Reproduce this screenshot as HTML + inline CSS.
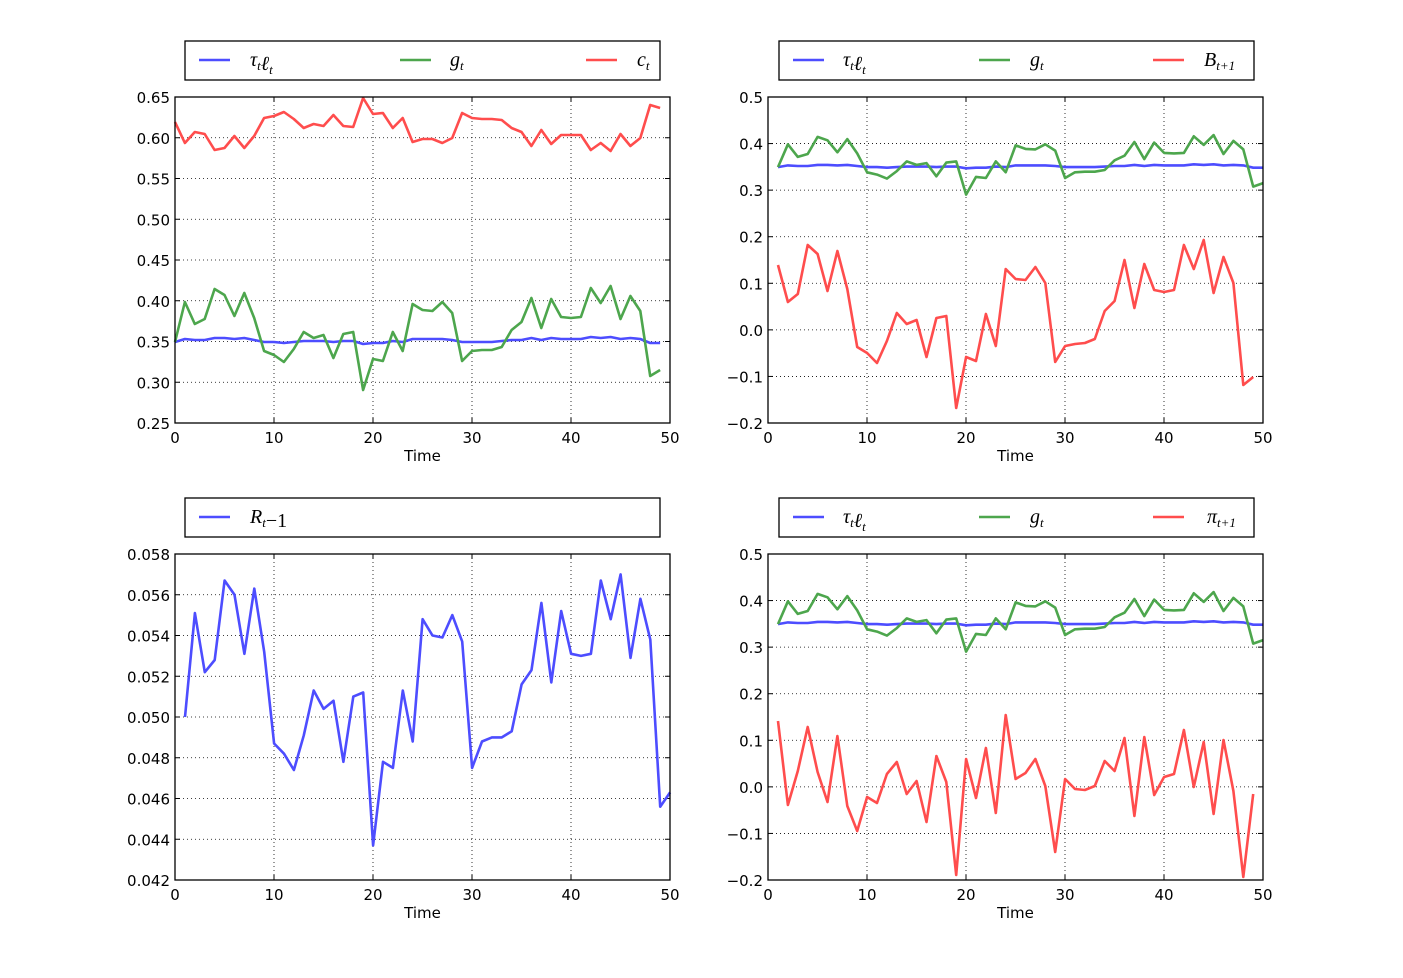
<!DOCTYPE html>
<html><head><meta charset="utf-8"><style>
html,body{margin:0;padding:0;background:#fff}
svg{display:block}
text{font-family:"DejaVu Sans","Liberation Sans",sans-serif;font-size:15px;fill:#000}
.m{font-family:"Liberation Serif","DejaVu Serif",serif;font-style:italic;font-size:20px}
</style></head><body>
<svg id="s" width="1403" height="978" xmlns="http://www.w3.org/2000/svg"></svg>
<script>
const S=document.getElementById('s');let h='';
const B='#4d4dff',G='#4da64d',R='#ff4d4d';
const redTL=[122,143,132,134,150,148,136,148,136,118,116,112,119,128,124,126,115,126,127,98,114,113,128,118,142,139,139,143,138,113,118,119,119,120,128,132,146,130,144,135,135,135,150,143,151,134,146,138,105,108];
const grnTL=[342,302,324,319,289,295,316,293,318,351,355,362,349,332,338,335,358,334,332,390,359,361,332,351,304,310,311,302,313,361,351,350,350,347,330,322,298,328,299,317,318,317,288,303,286,319,296,311,376,370];
const tauTL=[342,339,340,340,338,338,339,338,340,342,342,343,342,341,341,341,342,341,341,344,343,343,341,342,339,339,339,339,340,342,342,342,342,341,340,340,338,340,338,339,339,339,337,338,337,339,338,339,343,343];
const gv=grnTL.map(y=>0.65-(y-97)/815), tv=tauTL.map(y=>0.65-(y-97)/815);
const redB=[265,302,294,245,254,291,251,289,347,353,363,341,313,324,320,357,318,316,408,357,361,314,346,269,279,280,267,283,362,346,344,343,339,311,301,260,308,264,290,292,290,245,269,240,293,257,283,385,377];
const rv=[0.0500,0.0551,0.0522,0.0528,0.0567,0.0560,0.0531,0.0563,0.0532,0.0487,0.0482,0.0474,0.0491,0.0513,0.0504,0.0508,0.0478,0.0510,0.0512,0.0437,0.0478,0.0475,0.0513,0.0488,0.0548,0.0540,0.0539,0.0550,0.0537,0.0475,0.0488,0.0490,0.0490,0.0493,0.0516,0.0523,0.0556,0.0517,0.0552,0.0531,0.0530,0.0531,0.0567,0.0548,0.0570,0.0529,0.0558,0.0538,0.0456,0.0463];
const pi=[721,805,771,727,772,802,736,806,831,797,803,774,762,794,781,822,756,782,875,759,798,748,813,715,779,773,759,786,852,779,789,790,786,761,771,738,816,737,795,777,774,730,787,742,814,740,791,877,794];
function line(pts,c){h+=`<polyline points="${pts.map(p=>p[0].toFixed(1)+','+p[1].toFixed(1)).join(' ')}" fill="none" stroke="${c}" stroke-width="2.6" stroke-linejoin="round"/>`;}
function axes(x0,y0,yt){const w=495,ht=326;
 for(let i=0;i<=5;i++){const x=x0+i*99;
  if(i>0&&i<5)h+=`<line x1="${x}" y1="${y0}" x2="${x}" y2="${y0+ht}" stroke="#000" stroke-width="0.8" stroke-dasharray="1,3"/>`;
  h+=`<line x1="${x}" y1="${y0+ht}" x2="${x}" y2="${y0+ht-5}" stroke="#000"/><line x1="${x}" y1="${y0}" x2="${x}" y2="${y0+5}" stroke="#000"/>`;
  h+=`<text x="${x}" y="${y0+ht+20}" text-anchor="middle">${i*10}</text>`;}
 const n=yt.length-1;
 yt.forEach((t,i)=>{const y=y0+ht-i*ht/n;
  if(i>0&&i<n)h+=`<line x1="${x0}" y1="${y}" x2="${x0+w}" y2="${y}" stroke="#000" stroke-width="0.8" stroke-dasharray="1,3"/>`;
  h+=`<line x1="${x0}" y1="${y}" x2="${x0+5}" y2="${y}" stroke="#000"/><line x1="${x0+w}" y1="${y}" x2="${x0+w-5}" y2="${y}" stroke="#000"/>`;
  h+=`<text x="${x0-5}" y="${y+6}" text-anchor="end">${t}</text>`;});
 h+=`<text x="${x0+w/2}" y="${y0+ht+38}" text-anchor="middle">Time</text>`;}
function frame(x0,y0){h+=`<rect x="${x0}" y="${y0}" width="495" height="326" fill="none" stroke="#000" stroke-width="1.3"/>`;}
function legend(x,y,items){h+=`<rect x="${x}" y="${y}" width="475" height="39" fill="#fff" stroke="#000" stroke-width="1.3"/>`;
 items.forEach(it=>{h+=`<line x1="${it[0]}" y1="${y+19}" x2="${it[0]+31}" y2="${y+19}" stroke="${it[2]}" stroke-width="2.6"/><text class="m" x="${it[1]}" y="${y+25}">${it[3]}</text>`;});}
const sub=s=>`<tspan font-size="13" dy="4">${s}</tspan><tspan dy="-4"></tspan>`;
const tau=`τ${sub('t')}ℓ${sub('t')}`;
axes(175,97,['0.25','0.30','0.35','0.40','0.45','0.50','0.55','0.60','0.65']);
line(tauTL.map((y,i)=>[175+i*9.9,y]),B);line(grnTL.map((y,i)=>[175+i*9.9,y]),G);line(redTL.map((y,i)=>[175+i*9.9,y]),R);
frame(175,97);
legend(185,41,[[199,250,B,tau],[400,450,G,'g'+sub('t')],[586,637,R,'c'+sub('t')]]);
const yt2=['−0.2','−0.1','0.0','0.1','0.2','0.3','0.4','0.5'];
const mp=(v,y0)=>y0+(0.5-v)*465.7;
axes(768,97,yt2);
line(tv.map((v,i)=>[778+i*9.9,mp(v,97)]),B);line(gv.map((v,i)=>[778+i*9.9,mp(v,97)]),G);line(redB.map((y,i)=>[778+i*9.9,y]),R);
frame(768,97);
legend(779,41,[[793,843,B,tau],[979,1030,G,'g'+sub('t')],[1153,1204,R,'B'+sub('t+1')]]);
axes(175,554,['0.042','0.044','0.046','0.048','0.050','0.052','0.054','0.056','0.058']);
line(rv.map((v,i)=>[185+i*9.9,554+(0.058-v)*20375]),B);
frame(175,554);
h+=`<rect x="185" y="498" width="475" height="39" fill="#fff" stroke="#000" stroke-width="1.3"/><line x1="199" y1="517" x2="230" y2="517" stroke="${B}" stroke-width="2.6"/><text class="m" x="250" y="523">R${sub('t')}<tspan font-style="normal">−1</tspan></text>`;
axes(768,554,yt2);
line(tv.map((v,i)=>[778+i*9.9,mp(v,554)]),B);line(gv.map((v,i)=>[778+i*9.9,mp(v,554)]),G);line(pi.map((y,i)=>[778+i*9.9,y]),R);
frame(768,554);
legend(779,498,[[793,843,B,tau],[979,1030,G,'g'+sub('t')],[1153,1207,R,'π'+sub('t+1')]]);
S.innerHTML=h;
</script>
</body></html>
